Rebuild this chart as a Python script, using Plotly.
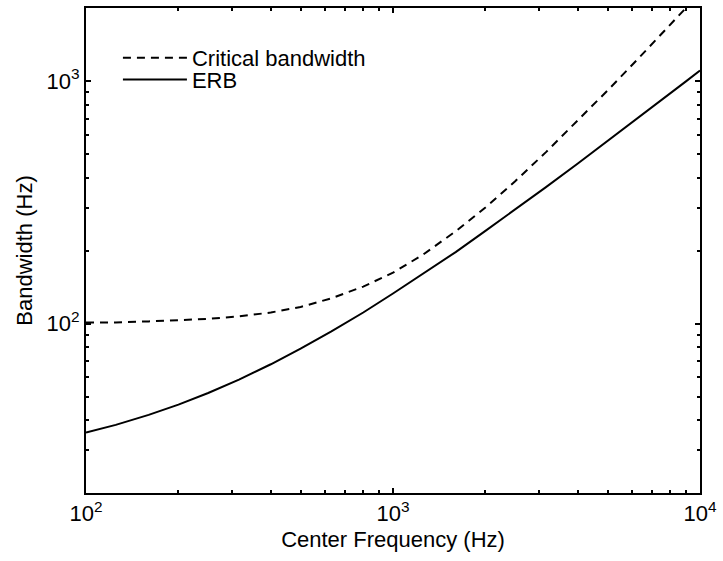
import plotly.graph_objects as go

# center frequencies (Hz)
freq_hz = [100, 125, 160, 200, 250, 315, 400, 500, 630, 800, 1000,
           1250, 1600, 2000, 2500, 3150, 4000, 5000, 6300, 8000, 9000, 10000]

# bandwidths (Hz)
critical_bw = [101, 101, 102, 103, 104.5, 107, 111, 117, 127, 142, 162,
               192, 240, 301, 386, 509, 686, 914, 1239, 1706, 2000, 2306]
erb_bw = [35.5, 38.2, 42.0, 46.3, 51.7, 58.7, 67.9, 78.7, 92.7, 111, 133,
          160, 197, 241, 295, 365, 457, 565, 705, 888, 996, 1104]

major_ticks = [100, 1000, 10000]
major_text = ["10<sup>2</sup>", "10<sup>3</sup>", "10<sup>4</sup>"]
y_major = [100, 1000]
y_major_text = ["10<sup>2</sup>", "10<sup>3</sup>"]

x_minor = [m * d for d in (100, 1000) for m in range(2, 10)]
y_minor = [m * d for d in (10, 100, 1000) for m in range(2, 10)]

fig = go.Figure()
fig.add_trace(go.Scatter(x=freq_hz, y=critical_bw, mode="lines",
                         name="Critical bandwidth", legend="legend",
                         showlegend=True,
                         line=dict(color="black", width=2, dash="8px,6px")))
fig.add_trace(go.Scatter(x=freq_hz, y=erb_bw, mode="lines", name="ERB",
                         legend="legend2", showlegend=True,
                         line=dict(color="black", width=2)))

axis_common = dict(
    showline=True, linecolor="black", linewidth=2, mirror="ticks",
    showgrid=False, zeroline=False, ticks="inside", ticklen=5,
    tickwidth=1.5, tickcolor="black",
    tickfont=dict(size=22, color="black"),
)

fig.update_xaxes(type="log", range=[2, 4], tickmode="array",
                 tickvals=major_ticks, ticktext=major_text,
                 minor=dict(tickvals=x_minor, ticks="inside", ticklen=3,
                            tickcolor="black", tickwidth=1.5),
                 title=dict(text="Center Frequency (Hz)", standoff=6,
                            font=dict(size=22, color="black")),
                 **axis_common)
fig.update_yaxes(type="log", range=[1.30103, 3.30103], tickmode="array",
                 tickvals=y_major, ticktext=y_major_text,
                 minor=dict(tickvals=y_minor, ticks="inside", ticklen=3,
                            tickcolor="black", tickwidth=1.5),
                 title=dict(text="Bandwidth (Hz)", standoff=8,
                            font=dict(size=22, color="black")),
                 **axis_common)

legend_style = dict(xanchor="left", yanchor="middle", visible=True,
                    bgcolor="rgba(0,0,0,0)", itemwidth=64,
                    font=dict(size=22, color="black"))

fig.update_layout(
    width=723, height=561,
    margin=dict(l=86, r=19, t=6, b=68),
    plot_bgcolor="white", paper_bgcolor="white",
    showlegend=True,
    font=dict(family="Liberation Sans, Arial, sans-serif", color="black"),
    legend=dict(x=0.052, y=0.897, **legend_style),
    legend2=dict(x=0.052, y=0.852, **legend_style),
)

fig.write_html("out.html", config={"displayModeBar": False},
               post_script="document.body.style.margin='0';")
